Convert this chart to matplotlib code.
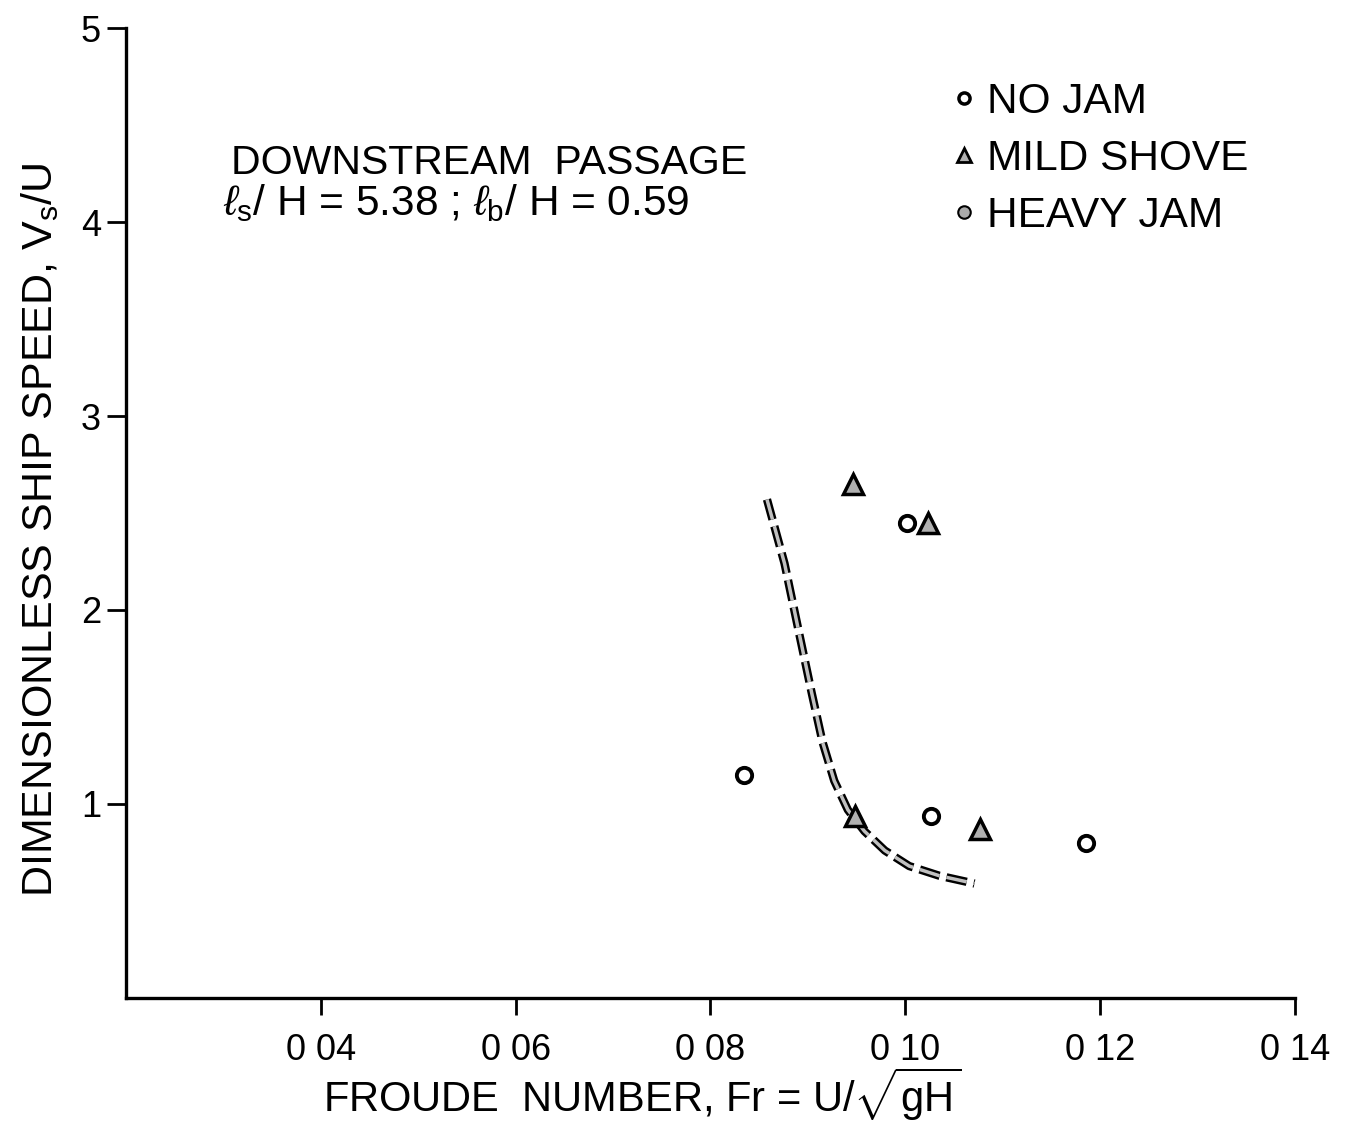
import matplotlib
matplotlib.use("Agg")
import matplotlib.pyplot as plt
from matplotlib.lines import Line2D

plt.rcParams['font.family'] = ['Liberation Sans', 'DejaVu Sans']
plt.rcParams['mathtext.fontset'] = 'custom'
plt.rcParams['mathtext.rm'] = 'Liberation Sans'
plt.rcParams['mathtext.it'] = 'Liberation Sans:italic'
plt.rcParams['lines.scale_dashes'] = False

# measured points, Froude number vs dimensionless ship speed
no_jam_fr = [0.0834, 0.1002, 0.1026, 0.1185]
no_jam_vs = [1.15, 2.45, 0.94, 0.80]

mild_shove_fr = [0.0946, 0.1023, 0.0948, 0.1077]
mild_shove_vs = [2.65, 2.45, 0.94, 0.87]

# boundary curve (dashed)
curve_fr = [0.0858, 0.0876, 0.0891, 0.0904, 0.0915, 0.0927, 0.0941,
            0.0958, 0.0979, 0.1004, 0.1035, 0.1071]
curve_vs = [2.57, 2.24, 1.88, 1.57, 1.32, 1.12, 0.97,
            0.86, 0.76, 0.68, 0.63, 0.59]

x_ticks = [0.04, 0.06, 0.08, 0.10, 0.12, 0.14]
x_tick_labels = ['0 04', '0 06', '0 08', '0 10', '0 12', '0 14']
y_ticks = [1, 2, 3, 4, 5]

fig = plt.figure(figsize=(13.46, 11.25), dpi=100)
ax = fig.add_axes([0.0936, 0.1129, 0.8685, 0.8622])

# dashed curve drawn as hollow dashes: dark outline, light core
outer, = ax.plot(curve_fr, curve_vs, color='black', lw=6, solid_capstyle='butt')
outer.set_dashes([15, 5])
outer.set_dash_capstyle('butt')
inner, = ax.plot(curve_fr, curve_vs, color='#c0c0c0', lw=2.5)
inner.set_dashes([15, 5])
inner.set_dash_capstyle('butt')

ax.plot(no_jam_fr, no_jam_vs, 'o', ms=11, mfc='white', mec='black', mew=2.8)
ax.plot(mild_shove_fr, mild_shove_vs, '^', ms=15, mfc='#b0b0b0', mec='black', mew=2.5)

ax.set_xlim(0.02, 0.14)
ax.set_ylim(0, 5)
ax.set_xticks(x_ticks)
ax.set_xticklabels(x_tick_labels, fontsize=26)
ax.set_yticks(y_ticks)
ax.set_yticklabels([str(v) for v in y_ticks], fontsize=26)
ax.tick_params(axis='x', direction='out', length=12, width=2, pad=13)
ax.tick_params(axis='y', direction='out', length=14, width=2, pad=4)

for side in ['top', 'right']:
    ax.spines[side].set_visible(False)
for side in ['left', 'bottom']:
    ax.spines[side].set_linewidth(2.4)

ax.text(0.0308, 4.25, 'DOWNSTREAM  PASSAGE', fontsize=29.5, va='baseline')
ax.text(0.0300, 4.035, r'$\ell_{\rm s}$/ H = 5.38 ; $\ell_{\rm b}$/ H = 0.59',
        fontsize=30.5, va='baseline')

handles = [
    Line2D([], [], ls='none', marker='o', ms=8, mfc='white', mec='black', mew=2.5),
    Line2D([], [], ls='none', marker='^', ms=10, mfc='#b0b0b0', mec='black', mew=2),
    Line2D([], [], ls='none', marker='o', ms=9, mfc='#aaaaaa', mec='black', mew=1.5),
]
ax.legend(handles, ['NO JAM', 'MILD SHOVE', 'HEAVY JAM'], loc='upper left',
          bbox_to_anchor=(0.69, 0.966), frameon=False, fontsize=30.5,
          handlelength=0.5, handletextpad=0.28, borderpad=0, labelspacing=0.4)

fig.text(0.030, 0.529, r'DIMENSIONLESS SHIP SPEED, V$_{\rm s}$/U', rotation=90,
         fontsize=31, ha='center', va='center')
fig.text(0.477, 0.012, r'FROUDE  NUMBER, Fr = U/$\sqrt{\rm gH}$', fontsize=30,
         ha='center', va='baseline')

fig.savefig('out.png', dpi=100, facecolor='white')
